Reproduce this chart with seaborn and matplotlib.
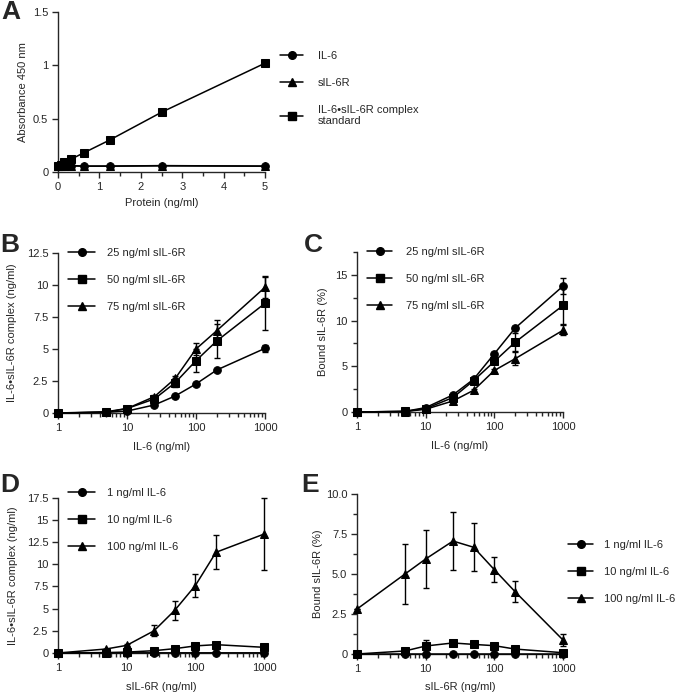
import matplotlib.pyplot as plt
import pandas as pd
import seaborn as sns
from matplotlib.lines import Line2D
from matplotlib.ticker import FixedLocator, FuncFormatter, LogLocator, NullFormatter, MultipleLocator

# panel A: standard curves
protein = [0, 0.078, 0.156, 0.3125, 0.625, 1.25, 2.5, 5]
abs_il6 = [0.06, 0.06, 0.06, 0.06, 0.055, 0.055, 0.06, 0.055]
abs_sil6r = [0.058, 0.058, 0.058, 0.058, 0.055, 0.055, 0.058, 0.055]
abs_complex = [0.06, 0.07, 0.09, 0.12, 0.18, 0.30, 0.56, 1.02]
a_names = ['IL-6', 'sIL-6R', 'IL-6\u2022sIL-6R complex\nstandard']

conc = [1, 5, 10, 25, 50, 100, 200, 1000]

# panel B: complex formed vs IL-6
b_25 = [0, 0.05, 0.15, 0.63, 1.33, 2.27, 3.36, 5.05]
b_25_err = [0, 0, 0, 0.05, 0.08, 0.1, 0.1, 0.25]
b_50 = [0, 0.1, 0.35, 1.1, 2.37, 4.09, 5.63, 8.57]
b_50_err = [0, 0, 0.05, 0.1, 0.35, 0.9, 1.3, 2.1]
b_75 = [0, 0.05, 0.35, 1.28, 2.7, 5.0, 6.43, 9.82]
b_75_err = [0, 0, 0.05, 0.1, 0.2, 0.45, 0.85, 0.8]
bc_names = ['25 ng/ml sIL-6R', '50 ng/ml sIL-6R', '75 ng/ml sIL-6R']

# panel C: bound sIL-6R vs IL-6
c_25 = [0, 0.07, 0.48, 1.87, 3.59, 6.37, 9.16, 13.77]
c_25_err = [0, 0, 0.05, 0.1, 0.15, 0.2, 0.2, 0.85]
c_50 = [0, 0.07, 0.37, 1.58, 3.44, 5.53, 7.62, 11.65]
c_50_err = [0, 0, 0.05, 0.1, 0.2, 0.3, 1.0, 2.0]
c_75 = [0, 0.05, 0.3, 1.21, 2.38, 4.54, 5.82, 8.94]
c_75_err = [0, 0, 0.05, 0.1, 0.15, 0.2, 0.7, 0.55]

# panel D: complex formed vs sIL-6R
d_1 = [0, 0.02, 0.02, 0.02, 0.02, 0.02, 0.02, 0.02]
d_1_err = [0, 0, 0, 0, 0, 0, 0, 0]
d_10 = [0, 0.05, 0.1, 0.26, 0.49, 0.8, 0.94, 0.64]
d_10_err = [0, 0, 0, 0.05, 0.05, 0.1, 0.1, 0.1]
d_100 = [0, 0.45, 0.86, 2.5, 4.8, 7.6, 11.35, 13.4]
d_100_err = [0, 0.05, 0.1, 0.6, 1.1, 1.25, 1.9, 4.1]
de_names = ['1 ng/ml IL-6', '10 ng/ml IL-6', '100 ng/ml IL-6']

# panel E: bound sIL-6R vs sIL-6R
e_1 = [0, 0, 0, 0, 0, 0, 0, 0]
e_1_err = [0, 0, 0, 0, 0, 0, 0, 0]
e_10 = [0, 0.19, 0.5, 0.69, 0.6, 0.52, 0.31, 0.08]
e_10_err = [0, 0.05, 0.35, 0.1, 0.08, 0.08, 0.05, 0]
e_100 = [2.81, 5.0, 5.94, 7.06, 6.67, 5.27, 3.9, 0.875]
e_100_err = [0, 1.9, 1.8, 1.8, 1.5, 0.8, 0.65, 0.35]

FS = 8
MS = 5.5


def draw_series(ax, x, series, names, markers, errs=None):
    """
    Draws black marker/line series with seaborn, plus optional error bars.
    """
    frames = []
    for name, ys in zip(names, series):
        frames.append(pd.DataFrame({'x': x, 'y': ys, 'name': name}))
    df = pd.concat(frames, ignore_index=True)
    sns.lineplot(data=df, x='x', y='y', hue='name', style='name',
                 hue_order=names, style_order=names,
                 markers=dict(zip(names, markers)), dashes=False,
                 palette=['black'] * len(names), markersize=MS,
                 markeredgecolor='black', linewidth=1.1, clip_on=False,
                 legend=False, ax=ax, zorder=3)
    if errs is not None:
        for ys, es in zip(series, errs):
            ax.errorbar(x, ys, yerr=es, fmt='none', ecolor='black',
                        elinewidth=1, capsize=2.5, capthick=1,
                        clip_on=False, zorder=2)
    ax.set_xlabel('')
    ax.set_ylabel('')


def add_legend(fig, ax, names, markers, x, y, hl, pad):
    handles = [Line2D([], [], color='black', marker=m, markersize=MS,
                      lw=1.1) for m in markers]
    ax.legend(handles, names, loc='upper left', bbox_to_anchor=(x, y),
              bbox_transform=fig.transFigure, frameon=False, fontsize=FS,
              borderpad=0, borderaxespad=0, handlelength=hl,
              handletextpad=pad, labelspacing=1.52)


def style_axis(ax):
    sns.despine(ax=ax)
    ax.tick_params(axis='both', which='major', length=4, width=1,
                   labelsize=FS, pad=3)
    ax.tick_params(axis='both', which='minor', length=3, width=1)
    for sp in ['left', 'bottom']:
        ax.spines[sp].set_linewidth(1)


def log_axis(ax):
    ax.set_xscale('log')
    ax.set_xlim(1, 1000)
    ax.xaxis.set_major_locator(FixedLocator([1, 10, 100, 1000]))
    ax.xaxis.set_major_formatter(FuncFormatter(lambda v, p: '%d' % v))
    ax.xaxis.set_minor_locator(LogLocator(base=10, subs=range(2, 10)))
    ax.xaxis.set_minor_formatter(NullFormatter())


def g_fmt(v, p):
    return '%g' % v


def main():
    sns.set_style('ticks')
    plt.rcParams['font.family'] = ['Liberation Sans', 'DejaVu Sans']
    fig = plt.figure(figsize=(6.83, 6.95), dpi=100)
    W, H = 683.0, 695.0

    def axes_at(l, r, t, b):
        return fig.add_axes([l / W, 1 - b / H, (r - l) / W, (b - t) / H])

    circ_tri_sq = ['o', '^', 's']
    csq_tri = ['o', 's', '^']

    # A
    ax = axes_at(58, 265, 12, 172)
    draw_series(ax, protein, [abs_sil6r, abs_il6, abs_complex],
                [a_names[1], a_names[0], a_names[2]], ['^', 'o', 's'])
    ax.set_xlim(0, 5)
    ax.set_ylim(0, 1.5)
    ax.xaxis.set_major_locator(MultipleLocator(1))
    ax.xaxis.set_minor_locator(MultipleLocator(0.5))
    ax.yaxis.set_major_locator(MultipleLocator(0.5))
    ax.yaxis.set_major_formatter(FuncFormatter(g_fmt))
    style_axis(ax)
    ax.set_xlabel('Protein (ng/ml)', fontsize=FS)
    ax.set_ylabel('Absorbance 450 nm', fontsize=FS)
    ax.xaxis.set_label_coords(0.5, -0.16)
    ax.yaxis.set_label_coords(-0.147, 0.5)
    add_legend(fig, ax, a_names, circ_tri_sq, 280 / W, 1 - 51 / H,
               2.07, 1.35)

    # B
    ax = axes_at(58, 265, 253, 413)
    draw_series(ax, conc, [b_25, b_50, b_75], bc_names, csq_tri,
                [b_25_err, b_50_err, b_75_err])
    log_axis(ax)
    ax.set_ylim(0, 12.5)
    ax.yaxis.set_major_locator(MultipleLocator(2.5))
    ax.yaxis.set_major_formatter(FuncFormatter(g_fmt))
    style_axis(ax)
    ax.set_xlabel('IL-6 (ng/ml)', fontsize=FS)
    ax.set_ylabel('IL-6\u2022sIL-6R complex (ng/ml)', fontsize=FS)
    ax.xaxis.set_label_coords(0.5, -0.18)
    ax.yaxis.set_label_coords(-0.196, 0.5)
    add_legend(fig, ax, bc_names, csq_tri, 68 / W, 1 - 248 / H, 2.43, 1.1)

    # C
    ax = axes_at(357, 563, 252, 412)
    draw_series(ax, conc, [c_25, c_50, c_75], bc_names, csq_tri,
                [c_25_err, c_50_err, c_75_err])
    log_axis(ax)
    ax.set_ylim(0, 17.5)
    ax.yaxis.set_major_locator(MultipleLocator(5))
    ax.yaxis.set_minor_locator(MultipleLocator(2.5))
    ax.yaxis.set_major_formatter(FuncFormatter(g_fmt))
    style_axis(ax)
    ax.set_xlabel('IL-6 (ng/ml)', fontsize=FS)
    ax.set_ylabel('Bound sIL-6R (%)', fontsize=FS)
    ax.xaxis.set_label_coords(0.5, -0.18)
    ax.yaxis.set_label_coords(-0.143, 0.5)
    add_legend(fig, ax, bc_names, csq_tri, 367 / W, 1 - 247 / H, 2.25, 1.25)

    # D
    ax = axes_at(58, 264, 497.7, 653)
    draw_series(ax, conc, [d_1, d_10, d_100], de_names, csq_tri,
                [d_1_err, d_10_err, d_100_err])
    log_axis(ax)
    ax.set_ylim(0, 17.5)
    ax.yaxis.set_major_locator(MultipleLocator(2.5))
    ax.yaxis.set_major_formatter(FuncFormatter(g_fmt))
    style_axis(ax)
    ax.set_xlabel('sIL-6R (ng/ml)', fontsize=FS)
    ax.set_ylabel('IL-6\u2022sIL-6R complex (ng/ml)', fontsize=FS)
    ax.xaxis.set_label_coords(0.5, -0.187)
    ax.yaxis.set_label_coords(-0.196, 0.5)
    add_legend(fig, ax, de_names, csq_tri, 68 / W, 1 - 488 / H, 2.43, 1.1)

    # E
    ax = axes_at(357, 563, 494, 654)
    draw_series(ax, conc, [e_1, e_10, e_100], de_names, csq_tri,
                [e_1_err, e_10_err, e_100_err])
    log_axis(ax)
    ax.set_ylim(0, 10)
    ax.yaxis.set_major_locator(MultipleLocator(2.5))
    ax.yaxis.set_minor_locator(MultipleLocator(1.25))
    ax.yaxis.set_major_formatter(
        FuncFormatter(lambda v, p: '0' if v == 0 else '%.1f' % v))
    style_axis(ax)
    ax.set_xlabel('sIL-6R (ng/ml)', fontsize=FS)
    ax.set_ylabel('Bound sIL-6R (%)', fontsize=FS)
    ax.xaxis.set_label_coords(0.5, -0.175)
    ax.yaxis.set_label_coords(-0.167, 0.5)
    add_legend(fig, ax, de_names, csq_tri, 568 / W, 1 - 540 / H, 2.25, 1.0)

    # panel letters
    for letter, px, py in [('A', 1, 0), ('B', 0, 233), ('C', 304, 233),
                           ('D', 0, 473), ('E', 301, 473)]:
        fig.text(px / W, 1 - py / H, letter, fontsize=19, fontweight='bold',
                 ha='left', va='top')

    fig.savefig('out.png', dpi=100)


if __name__ == '__main__':
    main()
